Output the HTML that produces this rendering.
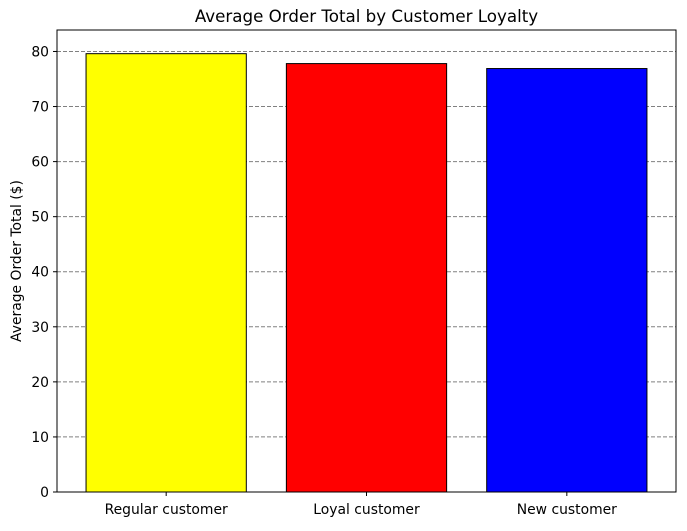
<!DOCTYPE html>
<html><head><meta charset="utf-8"><style>
body{margin:0;background:#fff}
svg text{font-family:"DejaVu Sans","Liberation Sans",sans-serif;fill:#000}
</style></head><body>
<svg id="chart" width="687" height="526" xmlns="http://www.w3.org/2000/svg"></svg>
<script>
const categories=["Regular customer","Loyal customer","New customer"];
const values=[79.6,77.8,76.9];
const colors=["#ffff00","#ff0000","#0000ff"];
const yTicks=[0,10,20,30,40,50,60,70,80];
const L=57,R=676,T=30,B=492;
const xmin=-0.545,xmax=2.545,ymax=83.9;
const xs=v=>L+(v-xmin)/(xmax-xmin)*(R-L);
const ys=v=>B-v/ymax*(B-T);
const svg=document.getElementById('chart');
const NS="http://www.w3.org/2000/svg";
function mk(tag,attrs,parent){const e=document.createElementNS(NS,tag);for(const k in attrs)e.setAttribute(k,attrs[k]);(parent||svg).appendChild(e);return e;}
yTicks.forEach(t=>{
 const y=ys(t);
 if(t>0){const g=mk('line',{x1:L,x2:R,y1:y,y2:y,stroke:'#808080','stroke-width':1,'stroke-dasharray':'4,2'});
 
 }
 const tk=mk('line',{x1:L-4,x2:L,y1:y,y2:y,stroke:'#000'});
 
 
 const tx=mk('text',{x:L-8,y:y+5,'text-anchor':'end','font-size':13.9});tx.textContent=t;
 
 
});
categories.forEach((c,i)=>{
 const x0=xs(i-0.4),x1=xs(i+0.4);
 const b=mk('rect',{x:x0,y:ys(values[i]),width:x1-x0,height:B-ys(values[i]),fill:colors[i],stroke:'#000','stroke-width':1});
 
 
 const tk=mk('line',{x1:xs(i),x2:xs(i),y1:B,y2:B+4,stroke:'#000'});
 
 
 const tx=mk('text',{x:xs(i),y:B+22,'text-anchor':'middle','font-size':13.9});tx.textContent=c;
 
 
});
const fr=mk('rect',{x:L,y:T,width:R-L,height:B-T,fill:'none',stroke:'#000','stroke-width':1});


const ti=mk('text',{x:(L+R)/2,y:22,'text-anchor':'middle','font-size':16.7});ti.textContent='Average Order Total by Customer Loyalty';


const yl=mk('text',{x:21,y:(T+B)/2,'text-anchor':'middle','font-size':13.9,transform:`rotate(-90 21 ${(T+B)/2})`});yl.textContent='Average Order Total ($)';


</script>
</body></html>
